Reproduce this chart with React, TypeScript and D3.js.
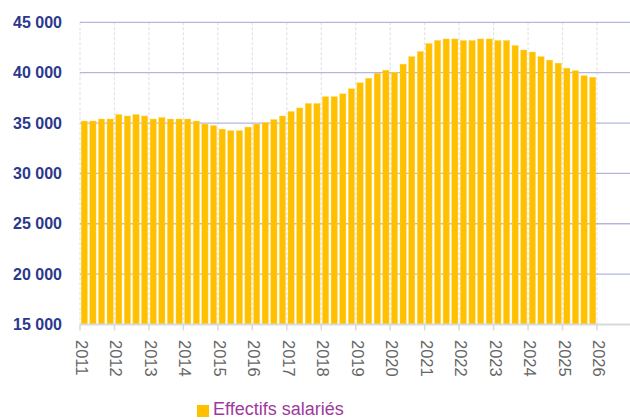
import React from "react";
import * as d3 from "d3";

const years = [2011, 2012, 2013, 2014, 2015, 2016, 2017, 2018, 2019, 2020, 2021, 2022, 2023, 2024, 2025];
const quarters = years.flatMap((y) => [1, 2, 3, 4].map((q) => `${y}T${q}`));
const effectifs = [
  35200, 35200, 35400, 35400,
  35850, 35700, 35850, 35700,
  35400, 35550, 35400, 35400,
  35400, 35200, 34900, 34750,
  34400, 34250, 34250, 34600,
  34900, 35050, 35350, 35700,
  36150, 36500, 36950, 36950,
  37620, 37620, 37900, 38400,
  39000, 39450, 39950, 40250,
  40050, 40850, 41600, 42100,
  42900, 43200, 43350, 43350,
  43200, 43200, 43350, 43350,
  43200, 43200, 42700, 42250,
  42050, 41600, 41250, 40950,
  40450, 40200, 39700, 39550,
];
const yTicks = [15000, 20000, 25000, 30000, 35000, 40000, 45000];
const yearTicks = [2011, 2012, 2013, 2014, 2015, 2016, 2017, 2018, 2019, 2020, 2021, 2022, 2023, 2024, 2025, 2026];
const seriesName = "Effectifs salariés";

export default function App() {
  const W = 630, H = 420;
  const x0 = 80, x1 = 597, xEnd = 630;
  const y = d3.scaleLinear().domain([15000, 45000]).range([324.5, 22.3]);
  const xb = d3.scaleBand<string>().domain(quarters).range([x0, x1]).paddingInner(0.27).paddingOuter(0.135);
  const xy = d3.scaleLinear().domain([2011, 2026]).range([x0, x1]);
  const fmt = (v: number) => d3.format(",")(v).replace(",", " ");
  const base = y(15000);

  return (
    <svg width={W} height={H} style={{ position: "absolute", left: 0, top: 0, background: "#fff" }}>
      {yearTicks.map((t) => (
        <line key={"v" + t} x1={xy(t)} x2={xy(t)} y1={y(45000)} y2={base} stroke="#e4e4e4" strokeWidth={1.2} strokeDasharray="3,2" />
      ))}
      {yTicks.filter((t) => t > 15000).map((t) => (
        <line key={"h" + t} x1={x0} x2={xEnd} y1={y(t)} y2={y(t)} stroke="#b3b7de" strokeWidth={1.3} />
      ))}
      {effectifs.map((v, i) => (
        <rect key={i} x={xb(quarters[i])} y={y(v)} width={xb.bandwidth()} height={base - y(v)} fill="#FFC000" stroke="#ffd95c" strokeWidth={0.4} />
      ))}
      <line x1={x0} x2={xEnd} y1={base} y2={base} stroke="#d9d9d9" strokeWidth={2} />
      {yearTicks.map((t) => (
        <line key={"t" + t} x1={xy(t)} x2={xy(t)} y1={base} y2={base + 6} stroke="#d9d9d9" strokeWidth={1.5} />
      ))}
      {yearTicks.map((t) => (
        <text key={"l" + t} transform={`translate(${xy(t)},340) rotate(90)`} x={0} y={4} fontFamily="'Liberation Sans', Arial, sans-serif" fontSize={16.5} fill="#666666" fontWeight={300}>
          {t}
        </text>
      ))}
      {yTicks.map((t) => (
        <text key={"y" + t} x={62} y={y(t) + 5.5} textAnchor="end" fontFamily="'Liberation Sans', Arial, sans-serif" fontSize={16} fontWeight="bold" fill="#2b388c">
          {fmt(t)}
        </text>
      ))}
      <rect x={197} y={405} width={12} height={12} fill="#FFC000" />
      <text x={213} y={415} fontFamily="'Liberation Sans', Arial, sans-serif" fontSize={18} fill="#a0399e">
        {seriesName}
      </text>
    </svg>
  );
}
